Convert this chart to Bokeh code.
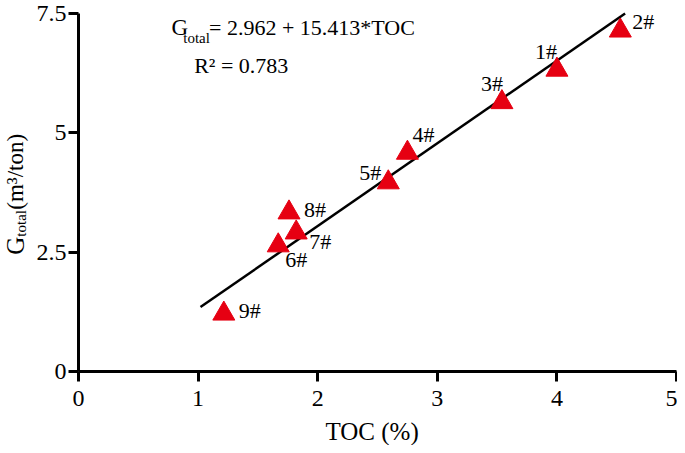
import math
from bokeh.plotting import figure
from bokeh.models import Range1d, FixedTicker, Label, ColumnDataSource
from bokeh.embed import file_html
from bokeh.resources import INLINE
from bokeh.core.properties import value, field

# ---- data ----
names = ["1#", "2#", "3#", "4#", "5#", "6#", "7#", "8#", "9#"]
toc = [4.00, 4.53, 3.54, 2.75, 2.59, 1.67, 1.82, 1.76, 1.215]
gtotal = [6.32, 7.14, 5.64, 4.58, 3.96, 2.64, 2.91, 3.33, 1.21]
fit_toc = [1.02, 4.57]
fit_g = [1.35, 7.50]
x_ticks = [0, 1, 2, 3, 4, 5]
x_tick_labels = ["0", "1", "2", "3", "4", "5"]
y_ticks = [0, 2.5, 5, 7.5]
y_tick_labels = ["0", "2.5", "5", "7.5"]
x_title = "TOC (%)"
y_title_main = "G"
y_title_sub = "total"
y_title_rest = "(m³/ton)"
eq_main = "G"
eq_sub = "total"
eq_rest = "= 2.962 + 15.413*TOC"
r2_text = "R² = 0.783"

# label placement styles (pixels, relative to each point)
lab_dx = [0, 12, 1, 5, -7, 7, 13, 15, 15]
lab_dy = [-18, -9, -19, -18, -10, 14, 9, -3, -3]
lab_align = ["right", "left", "right", "left", "right", "left", "left", "left", "left"]

FONT = "Liberation Serif"
RED = "#E60012"

# ---- layout: frame fills the canvas, axes placed at data 0 ----
W, H = 677, 445
X0PX, Y0PX, YTOPPX = 78, 371, 13
SX = (W - X0PX) / 5.008
SY = (Y0PX - YTOPPX) / 7.5

p = figure(width=W, height=H,
           x_range=Range1d(-X0PX / SX, (W - X0PX) / SX),
           y_range=Range1d(-(H - Y0PX) / SY, 7.5 + YTOPPX / SY),
           output_backend="svg", toolbar_location=None, title=None,
           min_border_left=0, min_border_right=0, min_border_top=0, min_border_bottom=0)
p.outline_line_color = None
p.xgrid.visible = False
p.ygrid.visible = False
p.background_fill_color = "white"
p.border_fill_color = "white"

for ax in (p.xaxis[0], p.yaxis[0]):
    ax.fixed_location = 0
    ax.axis_line_width = 3
    ax.axis_line_color = "black"
    ax.major_tick_line_width = 3
    ax.major_tick_line_color = "black"
    ax.major_tick_out = 10
    ax.major_tick_in = 0
    ax.minor_tick_line_color = None
    ax.major_label_text_font = FONT
    ax.major_label_text_font_size = "24px"
    ax.major_label_text_color = "black"

p.xaxis[0].bounds = (x_ticks[0], x_ticks[-1])
p.xaxis[0].ticker = FixedTicker(ticks=x_ticks)
p.xaxis[0].major_label_overrides = {t: l for t, l in zip(x_ticks, x_tick_labels)}
p.xaxis[0].major_label_standoff = 9
p.yaxis[0].bounds = (y_ticks[0], y_ticks[-1])
p.yaxis[0].ticker = FixedTicker(ticks=y_ticks)
p.yaxis[0].major_label_overrides = {t: l for t, l in zip(y_ticks, y_tick_labels)}
p.yaxis[0].major_label_standoff = 2

# fit line
p.line(fit_toc, fit_g, line_color="black", line_width=2.5)

# points
src = ColumnDataSource(dict(x=toc, y=gtotal, name=names, dx=lab_dx, dy=lab_dy, align=lab_align))
p.scatter("x", "y", source=src, marker="triangle", size=22, fill_color=RED, line_color=RED, line_width=1)
p.text("x", "y", text="name", source=src, x_offset="dx", y_offset="dy",
       text_align=field("align"), text_baseline="middle",
       text_font=value(FONT), text_font_size="22px", text_color="black")

# helpers: reference image pixel -> data coordinates (annotation placement)
def dxp(px):
    return (px - 78) / 121.0

def dyp(py):
    return (371 - py) / 47.8

def lab(text, px, py, size, angle=0.0, align="left"):
    p.add_layout(Label(x=dxp(px), y=dyp(py), text=text, angle=angle,
                       text_font=FONT, text_font_size=size, text_color="black",
                       text_align=align, text_baseline="alphabetic"))

# equation
lab(eq_main, 172, 27, "23px")
lab(eq_sub, 184, 37, "15px")
lab(eq_rest, 210, 27, "22px")
lab(r2_text, 195, 65, "22px")

# axis titles
lab(x_title, 375, 431, "25px", align="center")
lab(y_title_main, 14, 254, "25px", angle=math.pi / 2)
lab(y_title_sub, 20, 236, "15px", angle=math.pi / 2)
lab(y_title_rest, 14, 209, "23px", angle=math.pi / 2)

open("out.html", "w").write(file_html(p, INLINE))
